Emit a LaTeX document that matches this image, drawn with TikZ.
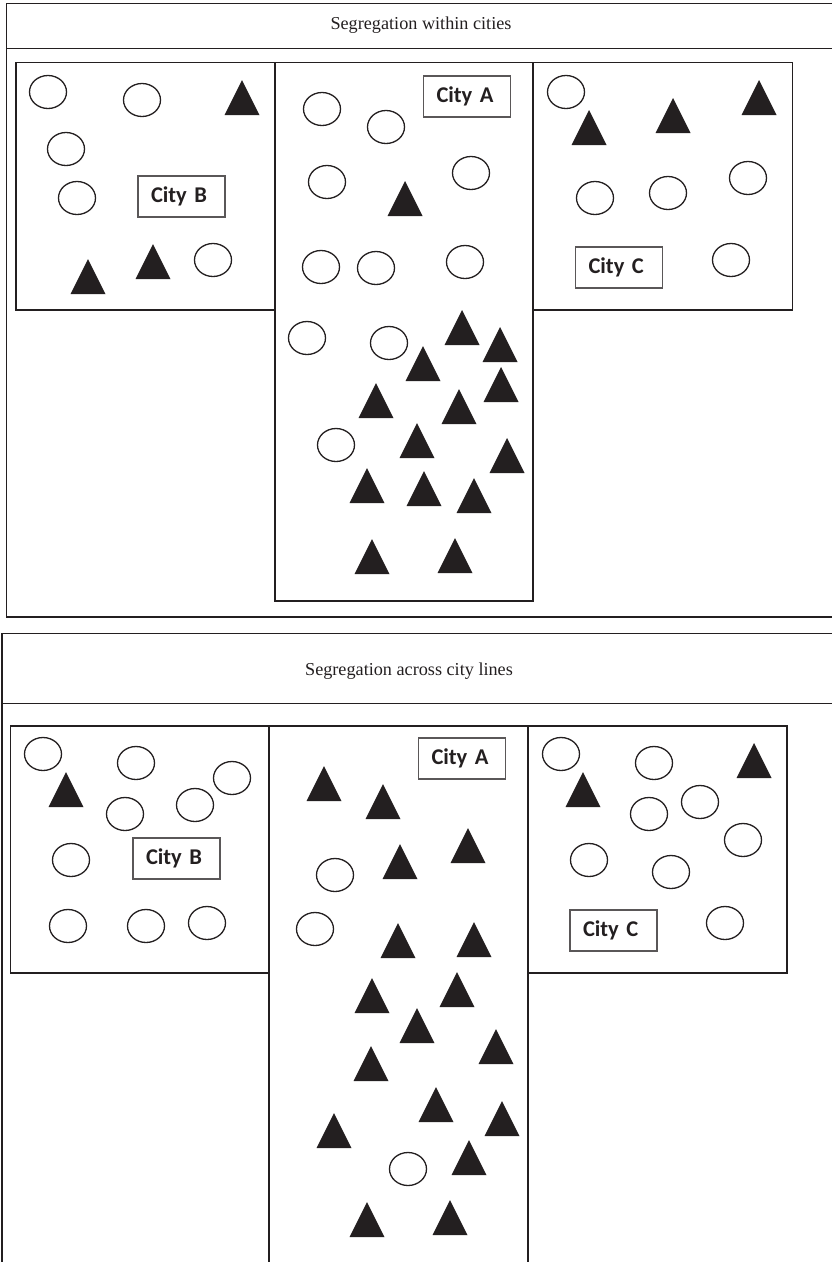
\documentclass[tikz,border=0pt]{standalone}
\usepackage{fontspec}
\setmainfont{Liberation Serif}
\newfontfamily\lblfont{Carlito}
\definecolor{ink}{RGB}{35,31,32}
\tikzset{
  frame/.style={line width=1.3pt, draw=ink},
  cityrect/.style={line width=1.3pt, draw=ink},
  title/.style={font=\fontsize{18.2}{20}\selectfont, text=ink, inner sep=0pt},
  citylbl/.style={draw=ink!75, line width=1.1pt, font=\lblfont\bfseries\fontsize{22.5}{24}\selectfont,
    text=ink, text width=61pt, inner xsep=13pt, minimum height=41pt, align=left, inner ysep=0pt},
  blob/.style={line width=1.3pt, draw=ink},
  tri/.pic={\fill[ink] (0,0) -- (17.5,35) -- (-17.5,35) -- cycle;}
}
\newcommand\blobat[2]{\draw[blob] (#1,#2) ellipse [x radius=18.5, y radius=16.5];}
\newcommand\trg[2]{\pic at (#1,#2) {tri};}
\begin{document}
\begin{tikzpicture}[x=1pt,y=-1pt]
\useasboundingbox (0,0) rectangle (832,1262);
% ---------- top panel ----------
\draw[frame] (832,3.3) -- (6.3,3.3) -- (6.3,617) -- (832,617);
\draw[frame] (6.3,48.5) -- (832,48.5);
\node[title] (t1) at (421,25) {Segregation within cities};
\draw[cityrect] (16,62.7) rectangle (275,310);
\draw[cityrect] (275,62.7) rectangle (533,601);
\draw[cityrect] (533,62.7) rectangle (792.7,310);
% City B
\node[citylbl] (b1) at (181.5,196.5) {City B};
\blobat{48}{92} \blobat{142}{100} \blobat{66}{149} \blobat{77}{198} \blobat{213}{260}
\trg{242}{80} \trg{88}{259} \trg{153}{244}
% City A
\node[citylbl] (a1) at (467,96.5) {City A};
\blobat{322}{109} \blobat{386}{127} \blobat{327}{182} \blobat{471}{173}
\blobat{321}{267} \blobat{376}{268} \blobat{465}{262}
\blobat{307}{338} \blobat{389}{343} \blobat{336}{445}
\trg{405}{181}
\trg{462}{310} \trg{500}{327} \trg{423}{346} \trg{501}{367}
\trg{376}{383} \trg{459}{389} \trg{417}{423} \trg{507}{438}
\trg{367}{468} \trg{424}{471} \trg{474}{478}
\trg{372}{539} \trg{455}{538}
% City C
\node[citylbl] (c1) at (619,267.5) {City C};
\blobat{566}{92} \blobat{595}{198} \blobat{668}{193} \blobat{748}{178} \blobat{731}{260}
\trg{589}{110} \trg{673}{98} \trg{759}{80}
% ---------- bottom panel ----------
\draw[frame] (832,633.3) -- (2,633.3) -- (2,1262);
\draw[frame] (2,703.3) -- (832,703.3);
\node[title] (t2) at (409,671) {Segregation across city lines};
\draw[cityrect] (10.7,726) rectangle (269,973);
\draw[cityrect] (269,1263) -- (269,726) -- (528,726) -- (528,1263);
\draw[cityrect] (528,726) rectangle (787,973);
% City B
\node[citylbl] (b2) at (176.5,858.5) {City B};
\blobat{43}{754} \blobat{136}{763} \blobat{232}{778} \blobat{195}{805} \blobat{125}{814}
\blobat{71}{860} \blobat{68}{926} \blobat{146}{926} \blobat{207}{923}
\trg{66}{772}
% City A
\node[citylbl] (a2) at (462,758.5) {City A};
\blobat{335}{875} \blobat{315}{929} \blobat{408}{1169}
\trg{324}{766} \trg{383}{784} \trg{400}{844} \trg{468}{828}
\trg{398}{923} \trg{474}{922}
\trg{372}{978} \trg{457}{972} \trg{417}{1008} \trg{496}{1029}
\trg{371}{1046} \trg{436}{1087} \trg{502}{1101} \trg{334}{1113}
\trg{469}{1140} \trg{367}{1202} \trg{450}{1200}
% City C
\node[citylbl] (c2) at (613.5,930.5) {City C};
\blobat{561}{754} \blobat{654}{763} \blobat{700}{802} \blobat{649}{814} \blobat{743}{840}
\blobat{589}{860} \blobat{671}{872} \blobat{725}{923}
\trg{583}{772} \trg{754}{743}
\end{tikzpicture}
\end{document}
